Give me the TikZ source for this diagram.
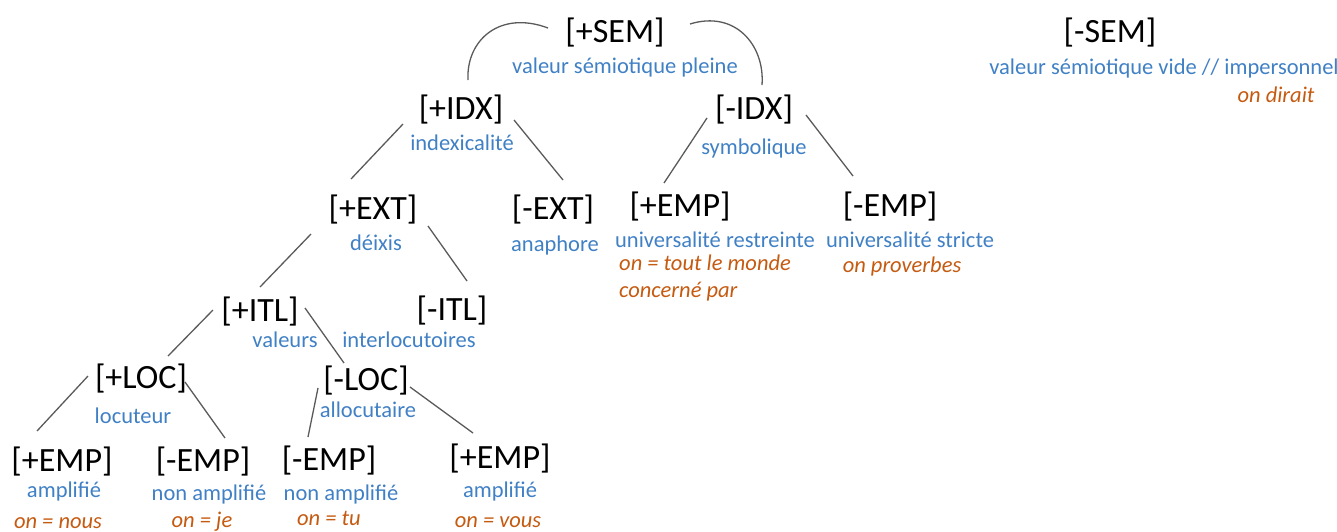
\documentclass[tikz,border=0pt]{standalone}
\usepackage{fontspec}
\setmainfont{Carlito}
\definecolor{descblue}{RGB}{64,128,196}
\definecolor{exorange}{RGB}{197,90,17}
\definecolor{linegray}{RGB}{90,90,90}
\tikzset{
  lab/.style={anchor=base, inner sep=0pt, font=\fontsize{34}{40}\selectfont, text=black},
  desc/.style={anchor=base, inner sep=0pt, font=\fontsize{22.5}{27}\selectfont, text=descblue},
  ex/.style={anchor=base, inner sep=0pt, font=\fontsize{22.5}{27}\selectfont\itshape, text=exorange},
  conn/.style={draw=linegray, line width=1.3pt},
}
\begin{document}
\begin{tikzpicture}[x=1pt,y=-1pt]
\useasboundingbox (0,0) rectangle (1337,531);
% black labels
\node[lab] (sem) at (615,42) {[+SEM]};
\node[lab] (nsem) at (1110,42) {[-SEM]};
\node[lab] (pidx) at (461,119) {[+IDX]};
\node[lab] (nidx) at (754,119) {[-IDX]};
\node[lab] (pext) at (373,219) {[+EXT]};
\node[lab] (next) at (553,219) {[-EXT]};
\node[lab] (pempA) at (680,216) {[+EMP]};
\node[lab] (nempA) at (890,216) {[-EMP]};
\node[lab] (pitl) at (260,321) {[+ITL]};
\node[lab] (nitl) at (452,320) {[-ITL]};
\node[lab] (ploc) at (141,388) {[+LOC]};
\node[lab] (nloc) at (366,390) {[-LOC]};
\node[lab] (pempB) at (62,471) {[+EMP]};
\node[lab] (nempB) at (203,471) {[-EMP]};
\node[lab] (nempC) at (329,470) {[-EMP]};
\node[lab] (pempC) at (500,468) {[+EMP]};
% blue descriptions
\node[desc] (semd) at (625,73) {valeur sémiotique pleine};
\node[desc] (nsemd) at (1164,74) {valeur sémiotique vide // impersonnel};
\node[desc] (pidxd) at (462,150) {indexicalité};
\node[desc] (nidxd) at (754,154) {symbolique};
\node[desc] (pextd) at (376,250) {déixis};
\node[desc] (nextd) at (555,251) {anaphore};
\node[desc] (pempAd) at (715,247) {universalité restreinte};
\node[desc] (nempAd) at (910,247) {universalité stricte};
\node[desc] (pitld) at (285,347) {valeurs};
\node[desc] (nitld) at (409,347) {interlocutoires};
\node[desc] (plocd) at (133,423) {locuteur};
\node[desc] (nlocd) at (368,417) {allocutaire};
\node[desc] (pempBd) at (64,497) {amplifié};
\node[desc] (nempBd) at (209,500) {non amplifié};
\node[desc] (nempCd) at (341,500) {non amplifié};
\node[desc] (pempCd) at (500,497) {amplifié};
% orange examples
\node[ex] (exdirait) at (1276,102) {on dirait};
\node[ex, anchor=base west] (extout) at (619,270) {on = tout le monde};
\node[ex, anchor=base west] (exconc) at (619,297) {concerné par};
\node[ex] (exprov) at (902,272) {on proverbes};
\node[ex] (exnous) at (58,528) {on = nous};
\node[ex] (exje) at (202,527) {on = je};
\node[ex] (extu) at (329,525) {on = tu};
\node[ex] (exvous) at (498,527) {on = vous};
% connector end points
\coordinate (a1) at (548,28);  \coordinate (a2) at (468,80);
\coordinate (b1) at (690,24);  \coordinate (b2) at (762,85);
\coordinate (c1) at (403,124); \coordinate (c2) at (351,179);
\coordinate (d1) at (514,120); \coordinate (d2) at (563,180);
\coordinate (e1) at (707,118); \coordinate (e2) at (664,183);
\coordinate (f1) at (806,115); \coordinate (f2) at (853,176);
\coordinate (g1) at (311,234); \coordinate (g2) at (260,287);
\coordinate (h1) at (428,226); \coordinate (h2) at (467,281);
\coordinate (i1) at (213,310); \coordinate (i2) at (168,356);
\coordinate (j1) at (305,308); \coordinate (j2) at (344,363);
\coordinate (k1) at (88,376);  \coordinate (k2) at (37,431);
\coordinate (l1) at (185,382); \coordinate (l2) at (225,438);
\coordinate (m1) at (318,388); \coordinate (m2) at (308,437);
\coordinate (n1) at (410,387); \coordinate (n2) at (473,433);
% connectors
\draw[conn] (a1) .. controls (500,10) and (466,40) .. (a2);
\draw[conn] (b1) .. controls (735,10) and (765,45) .. (b2);
\draw[conn] (c1) -- (c2);
\draw[conn] (d1) -- (d2);
\draw[conn] (e1) -- (e2);
\draw[conn] (f1) -- (f2);
\draw[conn] (g1) -- (g2);
\draw[conn] (h1) -- (h2);
\draw[conn] (i1) -- (i2);
\draw[conn] (j1) -- (j2);
\draw[conn] (k1) -- (k2);
\draw[conn] (l1) -- (l2);
\draw[conn] (m1) -- (m2);
\draw[conn] (n1) -- (n2);
\end{tikzpicture}
\end{document}
